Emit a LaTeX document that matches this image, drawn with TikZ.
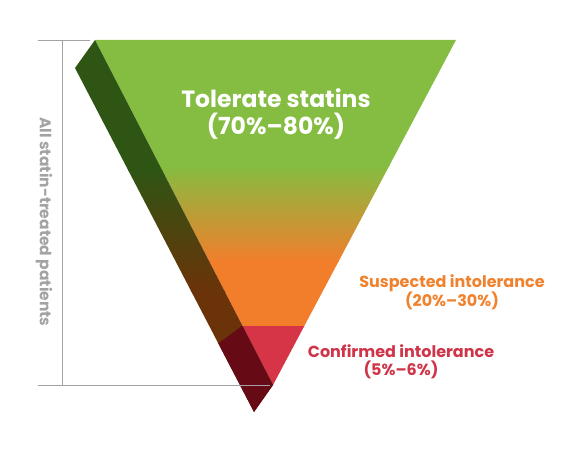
\documentclass[tikz,border=0pt]{standalone}
\usepackage{fontspec}
\setmainfont{Poppins}
\usetikzlibrary{positioning, calc}

\definecolor{tolgreen}{HTML}{84BD41}
\definecolor{susorange}{HTML}{F27E2C}
\definecolor{conred}{HTML}{D63447}
\definecolor{sidegreen}{HTML}{2F5514}
\definecolor{sidebrown}{HTML}{6B3309}
\definecolor{sidered}{HTML}{660A15}
\definecolor{linegray}{HTML}{A3A3A3}
\definecolor{susText}{HTML}{F0822E}
\definecolor{conText}{HTML}{CF3448}

\tikzset{
    base/.style={align=center, font=\bfseries, inner sep=0pt},
    toptext/.style={base, text=white, font=\fontsize{23.5}{27}\selectfont\bfseries},
    suslabel/.style={base, text=susText, font=\fontsize{16}{19}\selectfont\bfseries},
    conlabel/.style={base, text=conText, font=\fontsize{16}{18}\selectfont\bfseries},
    sidetext/.style={base, text=linegray, font=\fontsize{15.5}{18}\selectfont\bfseries},
    bracket/.style={draw=linegray, line width=0.8pt}
}

\begin{document}
\begin{tikzpicture}[x=1pt, y=-1pt]
    \useasboundingbox (0,0) rectangle (571,452);

    % funnel corners
    \coordinate (tl) at (95,40);
    \coordinate (tr) at (456,40);
    \coordinate (tip) at (273,385);
    \coordinate (stl) at (75,68);
    \coordinate (stip) at (254,412);

    % front face
    \begin{scope}
        \clip (tl) -- (tr) -- (tip) -- cycle;
        \fill[tolgreen] (0,30) rectangle (571,166);
        \shade[top color=tolgreen, bottom color=susorange] (0,165) rectangle (571,262);
        \fill[susorange] (0,261) rectangle (571,327);
        \fill[conred] (0,326) rectangle (571,420);
    \end{scope}

    % side face
    \begin{scope}
        \clip (tl) -- (stl) -- (stip) -- (tip) -- cycle;
        \fill[sidegreen] (0,30) rectangle (571,171);
        \shade[top color=sidegreen, bottom color=sidebrown] (0,170) rectangle (571,291);
        \fill[sidebrown] (0,290) rectangle (571,430);
        \fill[sidered] (242,326) -- (150,394) -- (150,430) -- (320,430) -- (320,326) -- cycle;
    \end{scope}

    % bracket
    \coordinate (brtop) at (62,40);
    \coordinate (brbot) at (62,385);
    \coordinate (ticktopL) at (38,40);
    \coordinate (ticktopR) at (90,40);
    \coordinate (tickbotL) at (38,385);
    \coordinate (tickbotR) at (270,385);
    \draw[bracket] (brtop) -- (brbot);
    \draw[bracket] (ticktopL) -- (ticktopR);
    \draw[bracket] (tickbotL) -- (tickbotR);

    % labels
    \node[toptext] (tolerate) at (276,114) {Tolerate statins\\(70\%–80\%)};
    \node[suslabel] (suspected) at (452,292) {Suspected intolerance\\(20\%–30\%)};
    \node[conlabel] (confirmed) at (401,362) {Confirmed intolerance\\(5\%–6\%)};
    \node[sidetext, rotate=-90] (allpatients) at (44,222) {All statin-treated patients};
\end{tikzpicture}
\end{document}
